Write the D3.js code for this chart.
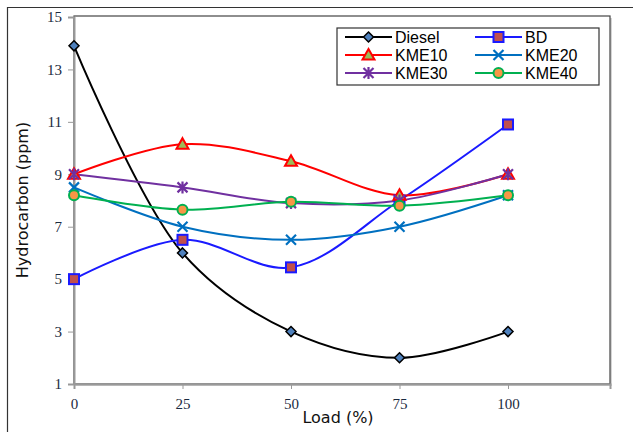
<!DOCTYPE html>
<html>
<head>
<meta charset="utf-8">
<script src="https://cdn.jsdelivr.net/npm/d3@7"></script>
<style>
  body { margin: 0; background: #fff; }
  svg { display: block; }
</style>
</head>
<body>
<svg id="chart" width="633" height="432"></svg>
<script>
var loads = [0, 25, 50, 75, 100];
var diesel = [13.9, 6.0, 3.0, 2.0, 3.0];
var bd = [5.0, 6.5, 5.45, 8.0, 10.9];
var kme10 = [9.0, 10.15, 9.5, 8.2, 9.0];
var kme20 = [8.5, 7.0, 6.5, 7.0, 8.2];
var kme30 = [9.0, 8.5, 7.9, 8.0, 9.0];
var kme40 = [8.2, 7.65, 7.95, 7.8, 8.2];
var yTicks = [1, 3, 5, 7, 9, 11, 13, 15];

var series = [
  {name: "Diesel", values: diesel, color: "#000000", marker: "diamond", fill: "#4f81bd"},
  {name: "BD", values: bd, color: "#1a1aff", marker: "square", fill: "#c0504d"},
  {name: "KME10", values: kme10, color: "#ff0000", marker: "triangle", fill: "#9bbb59"},
  {name: "KME20", values: kme20, color: "#0070c0", marker: "x", fill: "none"},
  {name: "KME30", values: kme30, color: "#7030a0", marker: "star", fill: "none"},
  {name: "KME40", values: kme40, color: "#00b050", marker: "circle", fill: "#f79646"}
];

var svg = d3.select("#chart");
var plot = {left: 74, top: 16, right: 610, bottom: 384};

// outer frame
svg.append("line").attr("x1", 7).attr("y1", 7.5).attr("x2", 633).attr("y2", 7.5)
  .attr("stroke", "#333").attr("stroke-width", 1.2);
svg.append("line").attr("x1", 7.5).attr("y1", 7).attr("x2", 7.5).attr("y2", 432)
  .attr("stroke", "#333").attr("stroke-width", 1.2);

var x = d3.scaleLinear().domain([0, 123.5]).range([plot.left, plot.right]);
var y = d3.scaleLinear().domain([1, 15]).range([plot.bottom, plot.top + 1]);

// plot area with shadow
svg.append("rect")
  .attr("x", plot.left + 2).attr("y", plot.top + 2)
  .attr("width", plot.right - plot.left).attr("height", plot.bottom - plot.top)
  .attr("fill", "#d4d4d4");
svg.append("rect")
  .attr("x", plot.left).attr("y", plot.top)
  .attr("width", plot.right - plot.left).attr("height", plot.bottom - plot.top)
  .attr("fill", "#fff").attr("stroke", "#444").attr("stroke-width", 1.2);

// axes
var yAxis = svg.append("g")
  .attr("transform", "translate(" + plot.left + ",0)")
  .call(d3.axisLeft(y).tickValues(yTicks).tickSize(6).tickPadding(6));
var xAxis = svg.append("g")
  .attr("transform", "translate(0," + plot.bottom + ")")
  .call(d3.axisBottom(x).tickValues(loads).tickSize(5).tickPadding(9));
[yAxis, xAxis].forEach(function(a) {
  a.select(".domain").attr("stroke", "#999").attr("stroke-width", 2);
  a.selectAll(".tick line").attr("stroke", "#999");
  a.selectAll("text").attr("font-family", "Liberation Serif, serif")
    .attr("font-size", 15).attr("fill", "#1a2a40");
});

svg.append("text")
  .attr("transform", "translate(28," + ((plot.top + plot.bottom) / 2) + ") rotate(-90)")
  .attr("text-anchor", "middle")
  .attr("font-family", "DejaVu Sans, sans-serif").attr("font-size", 16)
  .attr("fill", "#111")
  .text("Hydrocarbon (ppm)");
svg.append("text")
  .attr("x", 338).attr("y", 423)
  .attr("text-anchor", "middle")
  .attr("font-family", "DejaVu Sans, sans-serif").attr("font-size", 16)
  .attr("fill", "#111")
  .text("Load (%)");

var line = d3.line()
  .x(function(d, i) { return x(loads[i]); })
  .y(function(d) { return y(d); })
  .curve(d3.curveCatmullRom.alpha(0.5));

function drawMarker(g, s, cx, cy) {
  var m = g.append("g").attr("transform", "translate(" + cx + "," + cy + ")");
  if (s.marker === "diamond") {
    m.append("path").attr("d", "M0,-5L5,0L0,5L-5,0Z")
      .attr("fill", s.fill).attr("stroke", s.color).attr("stroke-width", 1.5);
  } else if (s.marker === "square") {
    m.append("rect").attr("x", -5).attr("y", -5).attr("width", 10).attr("height", 10)
      .attr("fill", s.fill).attr("stroke", s.color).attr("stroke-width", 2);
  } else if (s.marker === "triangle") {
    m.append("path").attr("d", "M0,-6L6,4.5L-6,4.5Z")
      .attr("fill", s.fill).attr("stroke", s.color).attr("stroke-width", 2);
  } else if (s.marker === "x") {
    m.append("path").attr("d", "M-5,-5L5,5M-5,5L5,-5")
      .attr("stroke", s.color).attr("stroke-width", 2.2);
  } else if (s.marker === "star") {
    m.append("path").attr("d", "M-5,-5L5,5M-5,5L5,-5M0,-6L0,6")
      .attr("stroke", s.color).attr("stroke-width", 2.2);
  } else if (s.marker === "circle") {
    m.append("circle").attr("r", 5)
      .attr("fill", s.fill).attr("stroke", s.color).attr("stroke-width", 2);
  }
}

var lines = svg.append("g");
series.forEach(function(s) {
  lines.append("path").datum(s.values)
    .attr("d", line)
    .attr("fill", "none")
    .attr("stroke", s.color)
    .attr("stroke-width", 2);
});
var marks = svg.append("g");
series.forEach(function(s) {
  s.values.forEach(function(v, i) {
    drawMarker(marks, s, x(loads[i]), y(v));
  });
});

// legend
var legend = svg.append("g");
legend.append("rect")
  .attr("x", 337).attr("y", 28).attr("width", 262).attr("height", 57)
  .attr("fill", "#fff").attr("stroke", "#333").attr("stroke-width", 1.2);
series.forEach(function(s, i) {
  var col = i % 2, row = Math.floor(i / 2);
  var lx = col === 0 ? 345 : 475;
  var ly = 37 + row * 18;
  legend.append("line")
    .attr("x1", lx).attr("x2", lx + 47).attr("y1", ly).attr("y2", ly)
    .attr("stroke", s.color).attr("stroke-width", 2);
  drawMarker(legend, s, lx + 23.5, ly);
  legend.append("text")
    .attr("x", lx + 50).attr("y", ly + 5.5)
    .attr("font-family", "Liberation Sans, Arial, sans-serif").attr("font-size", 16)
    .attr("fill", "#000")
    .text(s.name);
});
</script>
</body>
</html>
